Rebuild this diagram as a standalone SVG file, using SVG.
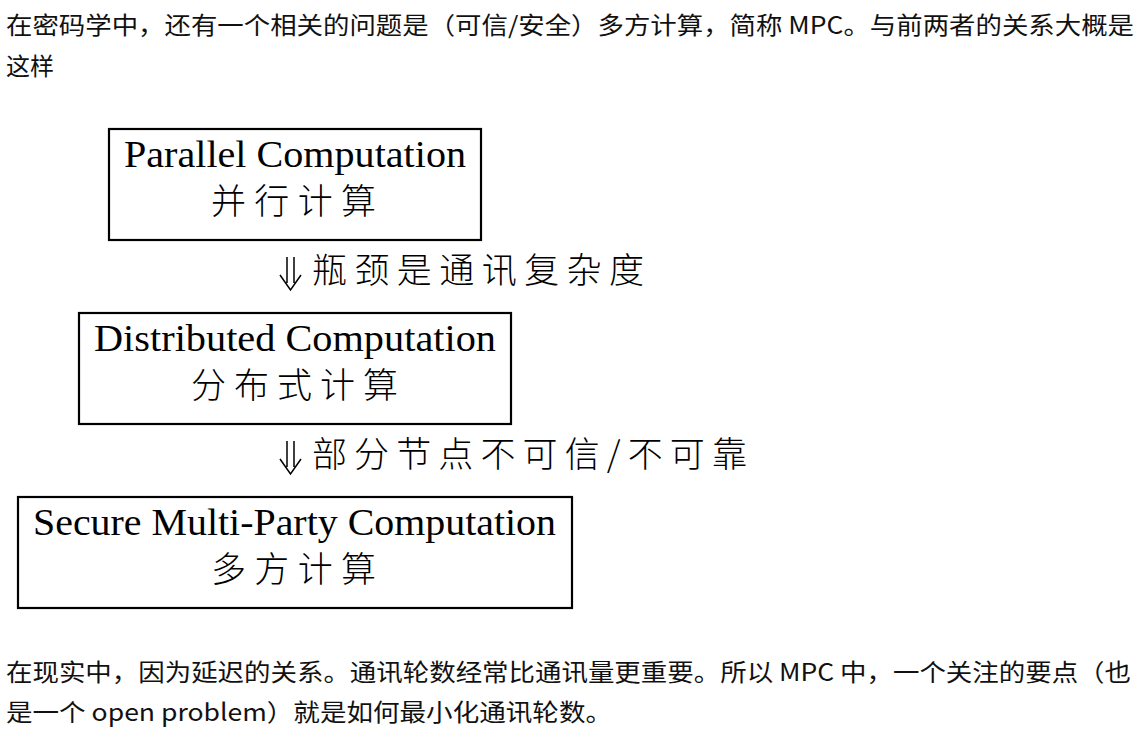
<svg xmlns="http://www.w3.org/2000/svg" width="1144" height="744" viewBox="0 0 1144 744">
<style>
.para{font-family:"Noto Sans CJK SC","Noto Sans",sans-serif;font-size:24px;fill:#111}
.latin{font-family:"Liberation Serif","Times New Roman",serif;font-size:38px;fill:#000}
.cjk{font-family:"Noto Sans CJK SC",sans-serif;font-size:35px;font-weight:300;fill:#000}
.box{fill:#fff;stroke:#000;stroke-width:2.2}
.arrow{fill:none;stroke:#000;stroke-width:1.5}
</style>
<rect width="1144" height="744" fill="#fff"/>
<text class="para" x="6" y="34" textLength="1128" lengthAdjust="spacingAndGlyphs">在密码学中，还有一个相关的问题是（可信/安全）多方计算，简称 MPC。与前两者的关系大概是</text>
<text class="para" x="6" y="75">这样</text>

<g id="node-parallel">
<rect class="box" x="109" y="129" width="372" height="111"/>
<text class="latin" x="124" y="167" textLength="342" lengthAdjust="spacingAndGlyphs">Parallel Computation</text>
<text class="cjk" x="211" y="214" textLength="165" lengthAdjust="spacing">并行计算</text>
</g>

<g id="node-distributed">
<rect class="box" x="79" y="313" width="432" height="111"/>
<text class="latin" x="94" y="351" textLength="402" lengthAdjust="spacingAndGlyphs">Distributed Computation</text>
<text class="cjk" x="191" y="398" textLength="207" lengthAdjust="spacing">分布式计算</text>
</g>

<g id="node-mpc">
<rect class="box" x="18" y="497" width="554" height="111"/>
<text class="latin" x="33" y="535" textLength="523" lengthAdjust="spacingAndGlyphs">Secure Multi-Party Computation</text>
<text class="cjk" x="211" y="582" textLength="165" lengthAdjust="spacing">多方计算</text>
</g>

<g id="connectors">
<path class="arrow" d="M287,257 V283 M294,257 V283 M280,275 L290.5,290 L301,275"/>
<text class="cjk" x="312" y="283" textLength="332" lengthAdjust="spacing">瓶颈是通讯复杂度</text>
<path class="arrow" d="M287,441 V467 M294,441 V467 M280,459 L290.5,474 L301,459"/>
<text class="cjk" x="312" y="467" textLength="435" lengthAdjust="spacing">部分节点不可信/不可靠</text>
</g>

<text class="para" x="6" y="681" textLength="1125" lengthAdjust="spacingAndGlyphs">在现实中，因为延迟的关系。通讯轮数经常比通讯量更重要。所以 MPC 中，一个关注的要点（也</text>
<text class="para" x="6" y="721" textLength="606" lengthAdjust="spacingAndGlyphs">是一个 open problem）就是如何最小化通讯轮数。</text>
</svg>
